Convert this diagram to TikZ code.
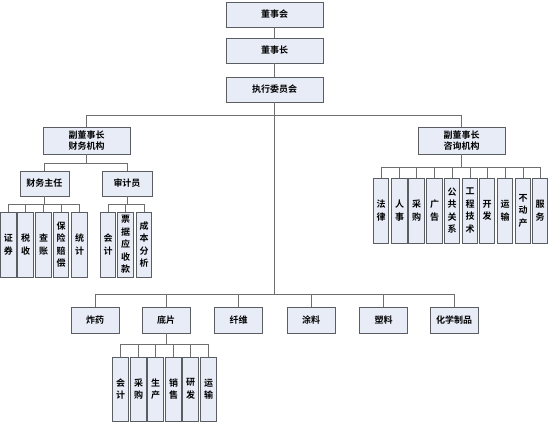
\documentclass[tikz,border=0pt]{standalone}
\usepackage{fontspec}
\usepackage{tikz}
\setmainfont{Noto Sans CJK SC}[BoldFont={Noto Sans CJK SC Bold}]
\definecolor{boxfill}{HTML}{E7ECF7}
\definecolor{boxline}{HTML}{5A5E62}
\definecolor{wire}{HTML}{6E6E6E}
\tikzset{
  unit/.style={draw=boxline,fill=boxfill,line width=0.9pt,inner sep=0pt,
    font=\fontsize{9}{12.5}\selectfont\bfseries,align=center},
  widebox/.style={unit,minimum width=97pt,minimum height=25pt},
  midbox/.style={unit,minimum width=87pt,minimum height=27pt,
    font=\fontsize{9}{11.5}\selectfont\bfseries},
  smallbox/.style={unit,minimum width=49pt,minimum height=25pt},
  tallbox/.style={unit,minimum width=15.5pt,minimum height=65pt},
  link/.style={draw=wire,line width=0.7pt}
}
\begin{document}
\begin{tikzpicture}[x=1pt,y=-1pt]
\useasboundingbox (0,0) rectangle (550,423);
% top of the tree:
\node[widebox] (board) at (274.5,14.5) {董事会};
\node[widebox] (chair) at (274.5,50.5) {董事长};
\node[widebox] (exec) at (274.5,89.5) {执行委员会};
% vice chairmen:
\node[midbox] (finance) at (86.5,140.5) {副董事长\\财务机构};
\node[midbox] (advice) at (461.5,140.5) {副董事长\\咨询机构};
% finance side:
\node[smallbox] (cfo) at (44.5,183.5) {财务主任};
\node[smallbox,minimum width=50pt] (audit) at (127,183.5) {审计员};
\node[tallbox] (f1) at (8.5,244.5) {证\\券};
\node[tallbox] (f2) at (25.5,244.5) {税\\收};
\node[tallbox] (f3) at (43.5,244.5) {查\\账};
\node[tallbox] (f4) at (61,244.5) {保\\险\\赔\\偿};
\node[tallbox] (f5) at (79.5,244.5) {统\\计};
\node[tallbox] (a1) at (108,244.5) {会\\计};
\node[tallbox] (a2) at (125.5,244.5) {票\\据\\应\\收\\款};
\node[tallbox] (a3) at (144,244.5) {成\\本\\分\\析};
% advice side:
\node[tallbox] (c1) at (381,210.5) {法\\律};
\node[tallbox] (c2) at (399.5,210.5) {人\\事};
\node[tallbox] (c3) at (416.5,210.5) {采\\购};
\node[tallbox] (c4) at (434.5,210.5) {广\\告};
\node[tallbox] (c5) at (452,210.5) {公\\共\\关\\系};
\node[tallbox] (c6) at (470,210.5) {工\\程\\技\\术};
\node[tallbox] (c7) at (487,210.5) {开\\发};
\node[tallbox] (c8) at (505,210.5) {运\\输};
\node[tallbox] (c9) at (523,210.5) {不\\动\\产};
\node[tallbox] (c10) at (540,210.5) {服\\务};
% product lines:
\node[smallbox,minimum width=48pt,minimum height=26pt] (p1) at (95,320) {炸药};
\node[smallbox,minimum width=48pt,minimum height=26pt] (p2) at (166,320) {底片};
\node[smallbox,minimum width=48pt,minimum height=26pt] (p3) at (238.5,320) {纤维};
\node[smallbox,minimum width=48pt,minimum height=26pt] (p4) at (311,320) {涂料};
\node[smallbox,minimum width=48pt,minimum height=26pt] (p5) at (383.5,320) {塑料};
\node[smallbox,minimum width=48pt,minimum height=26pt] (p6) at (454,320) {化学制品};
% film departments:
\node[tallbox,minimum height=64pt] (d1) at (120.5,389) {会\\计};
\node[tallbox,minimum height=64pt] (d2) at (138.5,389) {采\\购};
\node[tallbox,minimum height=64pt] (d3) at (155.5,389) {生\\产};
\node[tallbox,minimum height=64pt] (d4) at (173.5,389) {销\\售};
\node[tallbox,minimum height=64pt] (d5) at (190.5,389) {研\\发};
\node[tallbox,minimum height=64pt] (d6) at (208.5,389) {运\\输};
% bus levels:
\coordinate (vbus) at (0,115);
\coordinate (fbus) at (0,163);
\coordinate (lbus) at (0,204);
\coordinate (abus) at (0,167);
\coordinate (pbus) at (0,294);
\coordinate (dbus) at (0,344);
% connectors:
\draw[link] (board) -- (chair);
\draw[link] (chair) -- (exec);
\draw[link] (exec.south) -- (exec.south |- pbus);
\foreach \n in {finance,advice}
  \draw[link] (exec.south |- vbus) -| (\n.north);
\foreach \n in {cfo,audit}
  \draw[link] (finance.south) -- (finance.south |- fbus) -| (\n.north);
\foreach \n in {f1,f2,f3,f4,f5}
  \draw[link] (cfo.south) -- (cfo.south |- lbus) -| (\n.north);
\foreach \n in {a1,a2,a3}
  \draw[link] (audit.south) -- (audit.south |- lbus) -| (\n.north);
\foreach \n in {c1,c2,c3,c4,c5,c6,c7,c8,c9,c10}
  \draw[link] (advice.south) -- (advice.south |- abus) -| (\n.north);
\foreach \n in {p1,p2,p3,p4,p5,p6}
  \draw[link] (exec.south |- pbus) -| (\n.north);
\foreach \n in {d1,d2,d3,d4,d5,d6}
  \draw[link] (p2.south) -- (p2.south |- dbus) -| (\n.north);
\end{tikzpicture}
\end{document}
